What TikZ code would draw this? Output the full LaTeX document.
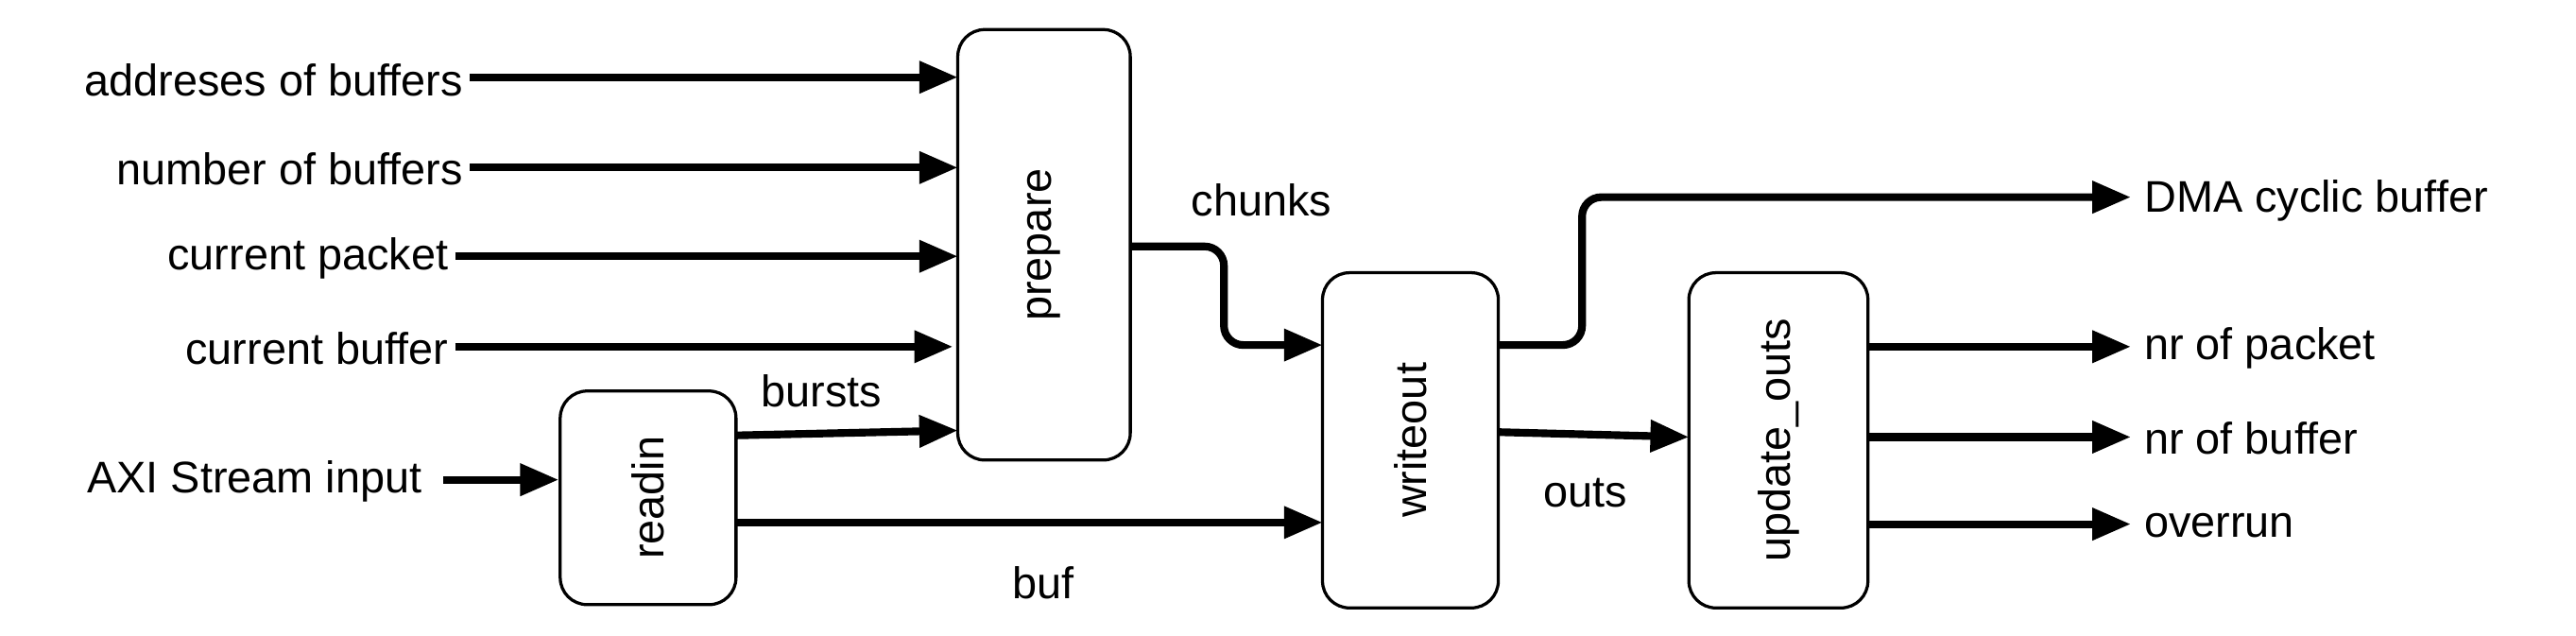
\documentclass[tikz,border=0pt]{standalone}
\usepackage{fontspec}
\setmainfont{Liberation Sans}
\usetikzlibrary{arrows.meta}
\begin{document}
\begin{tikzpicture}[x=0.03cm,y=-0.03cm,
  blk/.style={draw,line width=1.6pt,rounded corners=14pt,inner sep=0pt},
  lab/.style={font=\fontsize{23}{27}\selectfont,inner sep=0pt},
  ar/.style={line width=4pt,-{Triangle[length=20pt,width=16pt]}}]
\useasboundingbox (0,0) rectangle (1568,387);
\node[blk,minimum width=3.15cm,minimum height=7.86cm] (prep) at (635.5,149) {};
\node[lab,rotate=90] at (prep) {prepare};
\node[blk,minimum width=3.21cm,minimum height=3.9cm] (readin) at (394.5,303) {};
\node[lab,rotate=90] at (readin) {readin};
\node[blk,minimum width=3.21cm,minimum height=6.12cm] (wo) at (858.5,268) {};
\node[lab,rotate=90] at (wo) {writeout};
\node[blk,minimum width=3.27cm,minimum height=6.12cm] (uo) at (1082.5,268) {};
\node[lab,rotate=90] at (uo) {update\_outs};

\node[lab,anchor=east] (i1) at (282,49) {addreses of buffers};
\node[lab,anchor=east] (i2) at (282,103) {number of buffers};
\node[lab,anchor=east] (i3) at (273,157) {current packet};
\node[lab,anchor=east] (i4) at (273,212) {current buffer};
\node[lab,anchor=east] (i5) at (257,293) {AXI Stream input};
\draw[ar] (i1.east |- 0,47) ++(4,0) -- (583,47);
\draw[ar] (i2.east |- 0,102) ++(4,0) -- (583,102);
\draw[ar] (i3.east |- 0,156) ++(4,0) -- (583,156);
\draw[ar] (i4.east |- 0,211) ++(4,0) -- (580,211);
\draw[ar] (270,292) -- (readin.west |- 0,292);
\draw[ar] (448,265) -- (583,262);
\node[lab] (bursts) at (500,238) {bursts};
\draw[ar] (448,318) -- (805,318);
\node[lab] (buf) at (635,355) {buf};
\draw[ar,rounded corners=10pt] (688,150) -- (745,150) -- (745,210) -- (805,210);
\node[lab] (chunks) at (768,122) {chunks};
\coordinate (d1) at (1297,120);
\draw[ar,rounded corners=10pt] (912,210) -- (963,210) -- (963,120) -- (d1);
\node[lab,anchor=west] at (1305,122) {DMA cyclic buffer};
\draw[ar] (912,263) -- (1028,266);
\node[lab] at (965,300) {outs};
\node[lab,anchor=west] (o1) at (1305,212) {nr of packet};
\node[lab,anchor=west] (o2) at (1305,267) {nr of buffer};
\node[lab,anchor=west] (o3) at (1305,320) {overrun};
\draw[ar] (1137,211) -- (1297,211);
\draw[ar] (1137,266) -- (1297,266);
\draw[ar] (1137,319) -- (1297,319);
\end{tikzpicture}
\end{document}
